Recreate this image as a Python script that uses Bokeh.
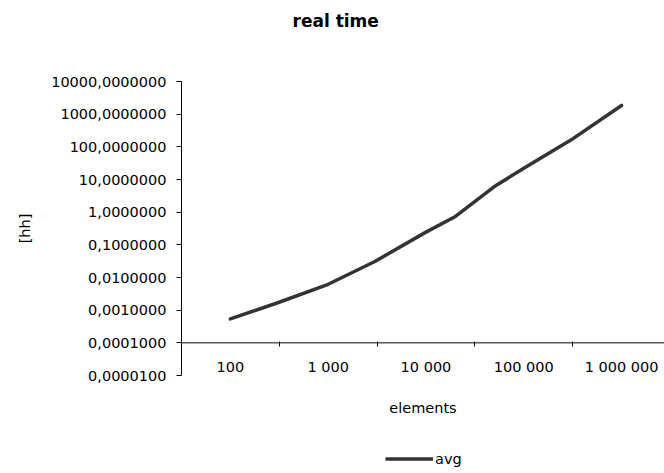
from bokeh.plotting import figure
from bokeh.models import (Range1d, FixedTicker, Span, Title, Legend, LegendItem,
                          ColumnDataSource)
from bokeh.layouts import column
from bokeh.embed import file_html
from bokeh.resources import INLINE

# ---- data ----
ELEMENTS = [100, 300, 1000, 3000, 10000, 20000, 50000, 100000, 300000, 1000000]
AVG_HH = [0.00054, 0.00166, 0.0062, 0.031, 0.245, 0.74, 6.1, 22, 158, 1850]

X_TICKS = [100, 1000, 10000, 100000, 1000000]
X_TICK_LABELS = [f"{v:,}".replace(",", " ") for v in X_TICKS]
X_BOUNDARIES = [10 ** (k + 0.5) for k in range(1, 7)]
Y_TICKS = [1e-5, 1e-4, 1e-3, 1e-2, 1e-1, 1e0, 1e1, 1e2, 1e3, 1e4]
Y_TICK_LABELS = [f"{v:.7f}".replace(".", ",") for v in Y_TICKS]
X_CROSS = 1e-4

TITLE = "real time"
X_TITLE = "elements"
Y_TITLE = "[hh]"
SERIES = "avg"

FONT = "DejaVu Sans"
FS = "14.5px"
LINE_COLOR = "#333333"
LINE_WIDTH = 3.5

p = figure(width=664, height=441, x_axis_type="log", y_axis_type="log",
           x_range=Range1d(10 ** 1.5, 10 ** 6.439), y_range=Range1d(1e-5, 1e4),
           output_backend="svg", toolbar_location=None, title=None,
           min_border_left=181, min_border_right=0, min_border_top=81,
           min_border_bottom=66)
p.outline_line_color = None
p.xgrid.visible = False
p.ygrid.visible = False
p.background_fill_color = "white"
p.border_fill_color = "white"

# y axis
ya = p.yaxis[0]
ya.ticker = FixedTicker(ticks=Y_TICKS, minor_ticks=[])
ya.major_label_overrides = {t: l for t, l in zip(Y_TICKS, Y_TICK_LABELS)}
ya.major_tick_in = 0
ya.major_tick_out = 5
ya.minor_tick_line_color = None
ya.major_label_standoff = 10
ya.major_label_text_font = FONT
ya.major_label_text_font_size = FS
ya.major_label_text_color = "black"
ya.axis_line_color = "black"
ya.major_tick_line_color = "black"
ya.axis_label = Y_TITLE
ya.axis_label_text_font = FONT
ya.axis_label_text_font_size = FS
ya.axis_label_text_font_style = "normal"
ya.axis_label_text_color = "black"
ya.axis_label_standoff = 15

# x axis
xa = p.xaxis[0]
xa.ticker = FixedTicker(ticks=X_TICKS, minor_ticks=X_BOUNDARIES)
xa.major_label_overrides = {t: l for t, l in zip(X_TICKS, X_TICK_LABELS)}
xa.axis_line_color = None
xa.major_tick_line_color = None
xa.major_tick_in = 0
xa.major_tick_out = 0
xa.minor_tick_line_color = "black"
xa.minor_tick_in = 34
xa.minor_tick_out = -29
xa.major_label_standoff = -17
xa.major_label_text_font = FONT
xa.major_label_text_font_size = FS
xa.major_label_text_color = "black"
xa.axis_label = X_TITLE
xa.axis_label_text_font = FONT
xa.axis_label_text_font_size = FS
xa.axis_label_text_font_style = "normal"
xa.axis_label_text_color = "black"
xa.axis_label_standoff = 22

p.add_layout(Span(location=X_CROSS, dimension="width", line_color="black", line_width=1))

src = ColumnDataSource(dict(x=ELEMENTS, y=AVG_HH))
r = p.line("x", "y", source=src, line_color=LINE_COLOR, line_width=LINE_WIDTH,
           line_join="round", line_cap="round")

# title: spacer then text (stacked outward from the frame)
p.add_layout(Title(text=" ", text_font=FONT, text_font_size="10px", standoff=27), "above")
p.add_layout(Title(text=TITLE, align="left", offset=111, vertical_align="top",
                   standoff=18, text_font=FONT, text_font_size="17px",
                   text_font_style="bold", text_color="black"), "above")

# legend strip below the chart (its frame is aligned with the chart frame)
q = figure(width=664, height=32, x_range=Range1d(0, 1), y_range=Range1d(0, 1),
           output_backend="svg", toolbar_location=None, title=None,
           x_axis_location=None, y_axis_location=None, min_border=0)
q.outline_line_color = None
q.background_fill_color = "white"
q.border_fill_color = "white"
q.grid.visible = False
# same series as legend proxy; it lies outside this strip's ranges, so only the legend shows
r2 = q.line("x", "y", source=src, line_color=LINE_COLOR, line_width=LINE_WIDTH)
legend = Legend(items=[LegendItem(label=SERIES, renderers=[r2])],
                location=(204, 6), orientation="horizontal",
                padding=0, margin=0, border_line_color=None,
                background_fill_alpha=0, glyph_width=48, glyph_height=17,
                label_standoff=2, label_height=17,
                label_text_font=FONT, label_text_font_size=FS,
                label_text_color="black")
q.add_layout(legend)

open("out.html", "w").write(file_html(column(p, q), INLINE))
